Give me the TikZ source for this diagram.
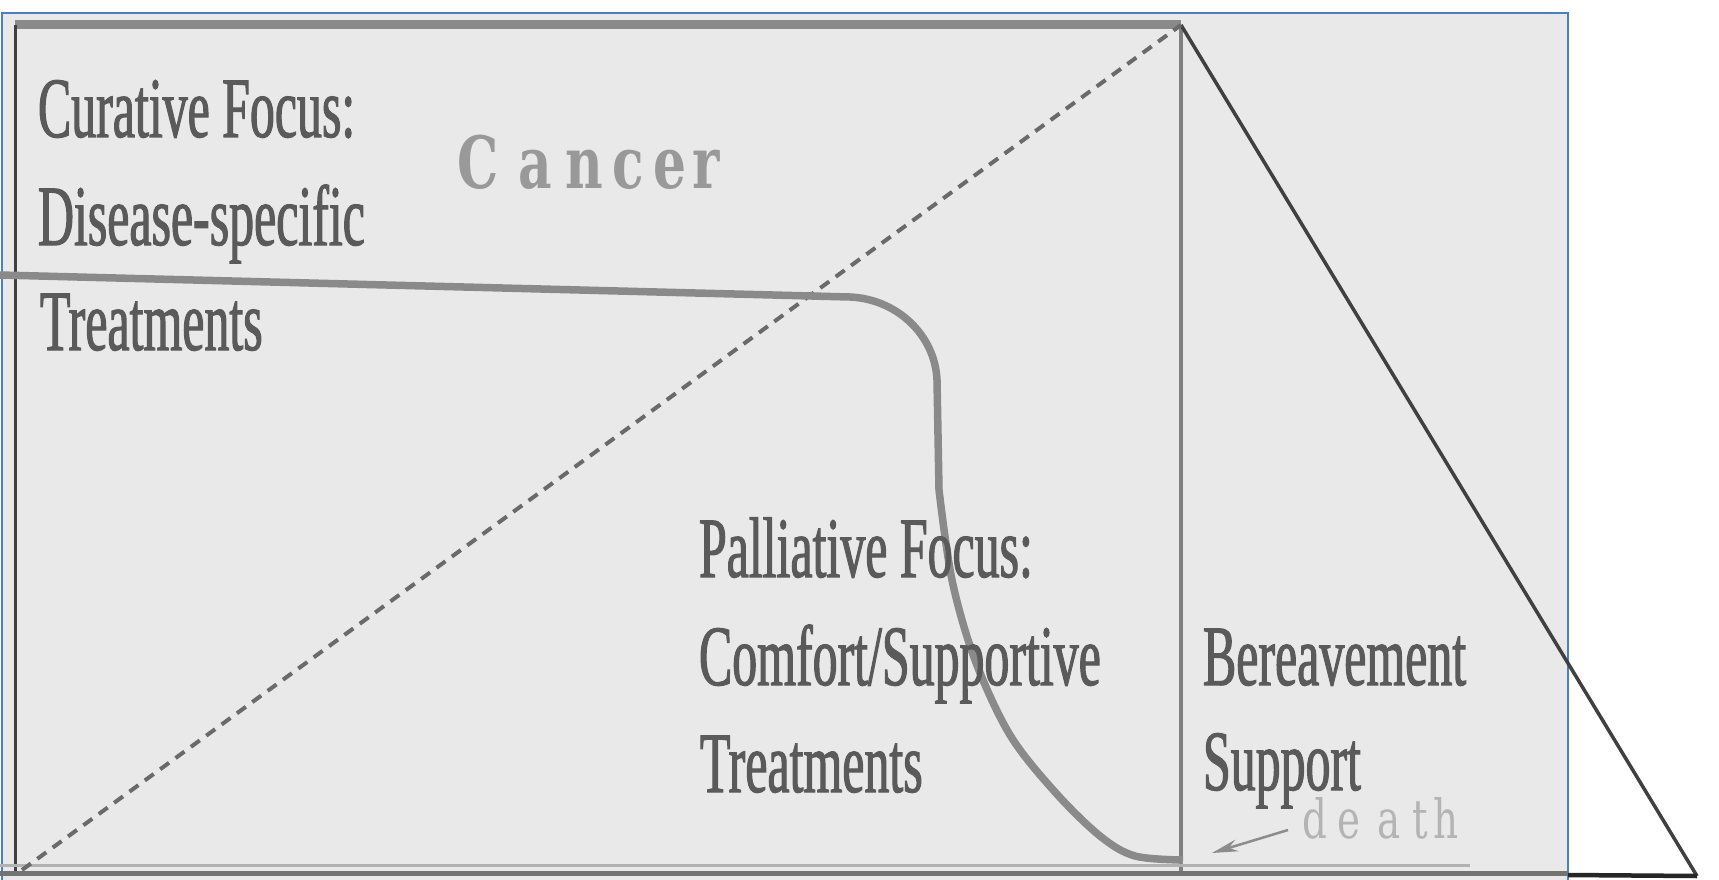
\documentclass[tikz,border=0pt]{standalone}
\usepackage{fontspec}
\setmainfont{Liberation Serif}
\newfontfamily\condfont[FakeStretch=0.58,FakeBold=1.2]{Liberation Serif}
\newfontfamily\slabfont[FakeStretch=0.72]{DejaVu Serif}
\usetikzlibrary{arrows.meta}
\definecolor{bggray}{HTML}{E9E9E9}
\definecolor{frameblue}{HTML}{4A7EC8}
\definecolor{txtgray}{HTML}{5A5A5A}
\definecolor{curvegray}{HTML}{8A8A8A}
\definecolor{dashgray}{HTML}{6A6A6A}
\definecolor{cancergray}{HTML}{999999}
\definecolor{deathgray}{HTML}{B4B4B4}
\begin{document}
\begin{tikzpicture}[x=1pt,y=-1pt,
  lbl/.style={anchor=base west, inner sep=0pt, outer sep=0pt, text=txtgray,
    font=\condfont\fontsize{86}{100}\selectfont},
  framebox/.style={draw=frameblue, line width=1.5pt, fill=bggray},
  topline/.style={draw=curvegray, line width=9pt},
  sideline/.style={draw=black!75, line width=3pt},
  divline/.style={draw=black!50, line width=3.5pt},
  slopeline/.style={draw=black!75, line width=3.5pt},
  dashline/.style={draw=dashgray, line width=4pt, dash pattern=on 11pt off 8pt},
  curve/.style={draw=curvegray, line width=7.5pt, line join=round},
  baselight/.style={draw=black!30, line width=3pt},
  basedark/.style={draw=black!55, line width=5pt},
  baseblack/.style={draw=black!85, line width=4.5pt},
  deatharrow/.style={draw=black!45, line width=2.5pt, -{Stealth[length=26pt,width=12pt]}}
]
\useasboundingbox (0,0) rectangle (1719,880);
\fill[white] (0,0) rectangle (1719,880);
\path[framebox] (2,13) rectangle (1568,886);

% key points
\coordinate (TL) at (15,25);
\coordinate (TR) at (1181,25);
\coordinate (BL) at (15,873);
\coordinate (BR) at (1181,873);
\coordinate (tip) at (1697,876);
\coordinate (dstart) at (22,870);
\coordinate (cstart) at (0,275);
\coordinate (cbend) at (850,297);

% frame lines
\draw[topline] (TL) -- (TR);
\draw[sideline] (TL) -- (BL);
\draw[divline] (TR) -- (BR);
\draw[slopeline] (TR) -- (tip);
\draw[baselight] (0,865) -- (1470,865);
\draw[basedark] (0,873) -- (1568,873);
\draw[baseblack] (1568,875) -- (tip);

% dashed diagonal
\draw[dashline] (dstart) -- (TR);

% curative / palliative curve
\draw[curve] (cstart) -- (cbend) .. controls (897,299) and (935,335) .. (937,380) -- (939,490)
  -- plot[smooth, tension=0.55] coordinates {(939,490) (952,580) (975,660) (1010,735) (1055,792) (1100,836) (1135,856) (1183,860)};

% texts
\node[lbl] (cur1) at (38,137) {Curative Focus:};
\node[lbl] (cur2) at (38,245) {Disease-specific};
\node[lbl] (cur3) at (40,350) {Treatments};
\node[lbl] (pal1) at (699,577) {Palliative Focus:};
\node[lbl] (pal2) at (699,685) {Comfort/Supportive};
\node[lbl] (pal3) at (700,792) {Treatments};
\node[lbl] (ber1) at (1203,685) {Bereavement};
\node[lbl] (ber2) at (1203,790) {Support};

\node[anchor=base west, inner sep=0pt, text=cancergray,
  font=\slabfont\bfseries\fontsize{72}{80}\selectfont] (cancer) at (457,189)
  {\makebox[61pt][l]{C}\makebox[47pt][l]{a}\makebox[47pt][l]{n}\makebox[41pt][l]{c}\makebox[39pt][l]{e}r};

\node[anchor=base west, inner sep=0pt, text=deathgray,
  font=\slabfont\fontsize{54}{60}\selectfont] (death) at (1302,838)
  {\makebox[35pt][l]{d}\makebox[40pt][l]{e}\makebox[35pt][l]{a}\makebox[21pt][l]{t}h};

\coordinate (arrowstart) at (1288,830);
\coordinate (arrowend) at (1212,853);
\draw[deatharrow] (arrowstart) -- (arrowend);
\end{tikzpicture}
\end{document}
